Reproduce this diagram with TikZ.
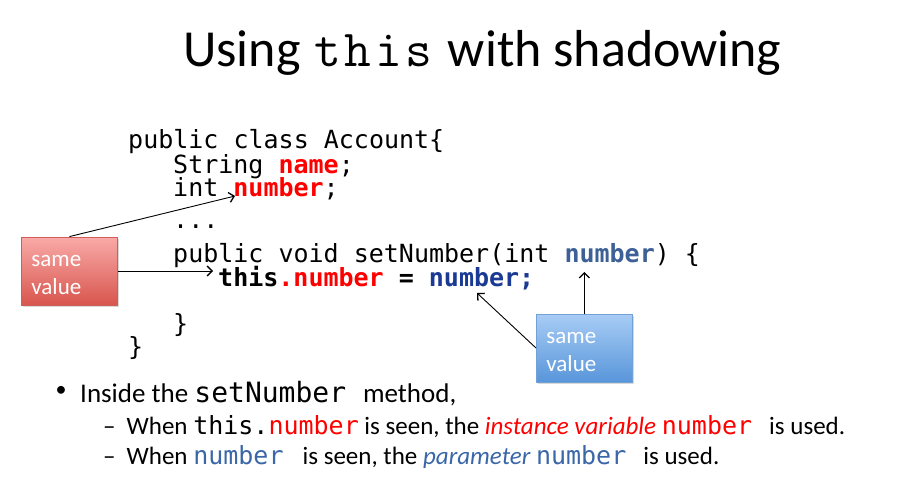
\documentclass[tikz,border=0pt]{standalone}
\usepackage{fontspec}
\setmainfont{Carlito}
\newfontfamily\codefont{DejaVu Sans Mono}
\usetikzlibrary{arrows.meta,shadows,calc}

\definecolor{idred}{HTML}{FF0000}
\definecolor{parblue}{HTML}{3D6197}
\definecolor{argnavy}{HTML}{1B3A94}
\definecolor{noteblue}{HTML}{3B67A8}
\definecolor{redtop}{HTML}{F9AAA8}
\definecolor{redbot}{HTML}{D8564E}
\definecolor{redline}{HTML}{CF5E58}
\definecolor{bluetop}{HTML}{A8CCF5}
\definecolor{bluebot}{HTML}{5896DA}
\definecolor{blueline}{HTML}{72A1D6}

\tikzset{
  code/.style={anchor=base west, inner sep=0pt, font=\codefont\fontsize{25}{25}\selectfont},
  boldcode/.style={code, font=\codefont\bfseries\fontsize{25}{25}\selectfont},
  note/.style={anchor=base west, inner sep=0pt, font=\fontsize{27}{27}\selectfont},
  subnote/.style={anchor=base west, inner sep=0pt, font=\fontsize{25}{25}\selectfont},
  callout/.style={anchor=base west, draw, line width=0.8pt, inner xsep=10pt, inner ysep=0pt,
    text width=76pt, text height=29pt, text depth=39pt, align=left, text=white,
    font=\fontsize{23}{28}\selectfont,
    drop shadow={shadow xshift=1.5pt, shadow yshift=-2pt, opacity=0.3}},
  redcallout/.style={callout, draw=redline, top color=redtop, bottom color=redbot},
  bluecallout/.style={callout, draw=blueline, top color=bluetop, bottom color=bluebot},
  pointer/.style={-{Straight Barb[length=5pt,width=10pt,line width=1.3pt]}, line width=0.9pt, black},
}
\newcommand{\snip}[1]{{\codefont\fontsize{25}{25}\selectfont #1}}
% typewriter word with a wider pitch
\newcommand{\widett}[1]{{\ttfamily\kern1.85pt\widettletters#1\relax}}
\def\widettletters#1{\ifx#1\relax\else#1\kern3.7pt\expandafter\widettletters\fi}

\begin{document}
\begin{tikzpicture}[x=1pt,y=-1pt]
  \useasboundingbox[fill=white] (0,0) rectangle (905,500);

  % heading
  \node[anchor=base west, inner sep=0pt, font=\fontsize{52}{52}\selectfont] (title) at (183,67)
    {Using \widett{this}\ with shadowing};

  % class listing
  \node[code] (l1) at (128,149) {public class Account\{};
  \node[code] (l2) at (173,173) {String {\bfseries\color{idred}name};};
  \node[code] (l3) at (173,196) {int {\bfseries\color{idred}number};};
  \node[code] (l4) at (173,228) {...};
  \node[code] (l5) at (173,262) {public void setNumber(int {\bfseries\color{parblue}number}) \{};
  \node[boldcode] (l6) at (218,286) {this{\color{idred}.number} = {\color{argnavy}number;}};
  \node[code] (l7) at (173,332) {\}};
  \node[code] (l8) at (128,355) {\}};

  % arrow targets
  \coordinate (fieldref) at ($(l3.base west)+(62,0)$);
  \coordinate (thisref) at ($(l6.base west)+(-5,-15)$);
  \coordinate (argref) at ($(l6.base west)+(259,7)$);
  \coordinate (paramref) at ($(l5.base west)+(411,10)$);

  % callouts
  \node[redcallout] (same1) at (21,266) {same\\value};
  \node[bluecallout] (same2) at (536,343) {same\\value};

  \draw[pointer] (same1.north) -- (fieldref);
  \draw[pointer] (same1.east) -- (thisref);
  \draw[pointer] (same2.west) -- (argref);
  \draw[pointer] (same2.north) -- (same2.north |- paramref);

  % notes
  \node[anchor=center, inner sep=0pt, font=\fontsize{22}{22}\selectfont] (b0) at (61,391) {\textbullet};
  \node[note] (b1) at (80,402) {Inside the {\codefont\fontsize{28}{28}\selectfont setNumber }method,};
  \node[subnote] (b2) at (103,434) {–\hspace{11pt}When \snip{this.\textcolor{idred}{number}} is seen, the \textcolor{idred}{\itshape instance variable} \snip{\color{idred}number }\hspace{2pt}is used.};
  \node[subnote] (b3) at (103,464) {–\hspace{11pt}When \snip{\color{noteblue}number }\hspace{4pt}is seen, the \textcolor{noteblue}{\itshape parameter} \snip{\color{noteblue}number }\hspace{2pt}is used.};
\end{tikzpicture}
\end{document}
